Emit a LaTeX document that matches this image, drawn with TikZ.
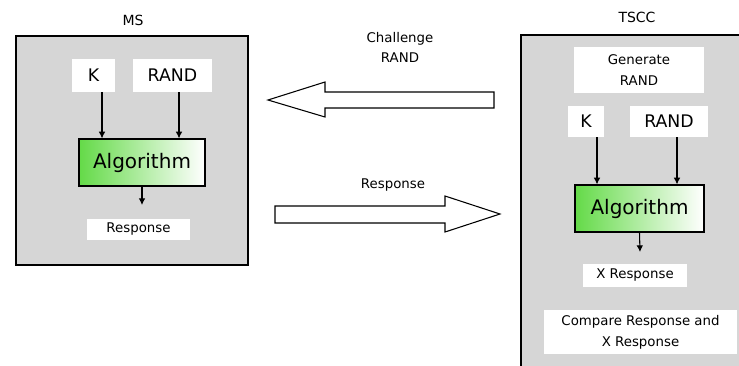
\documentclass[tikz,border=0pt]{standalone}
\usepackage{fontspec}
\setmainfont{DejaVu Sans}
\usetikzlibrary{arrows.meta,calc}
\definecolor{panelgray}{RGB}{214,214,214}
\definecolor{algreen}{RGB}{100,218,72}
\tikzstyle{panel}=[draw=black,line width=1.2pt,fill=panelgray]
\tikzstyle{title}=[font=\fontsize{10.5}{12}\selectfont]
\tikzstyle{field}=[fill=white,inner sep=0pt,font=\fontsize{13}{15}\selectfont]
\tikzstyle{note}=[fill=white,inner sep=0pt,align=center,font=\fontsize{10}{15.5}\selectfont]
\tikzstyle{algo}=[draw=black,line width=0.9pt,left color=algreen,right color=white,inner sep=0pt,font=\fontsize{15}{18}\selectfont]
\tikzstyle{flow}=[draw,line width=0.8pt,-{Latex[length=5pt,width=5pt]}]
\tikzstyle{bigarrow}=[draw=black,line width=0.8pt,fill=white,line join=miter]
\tikzstyle{msg}=[font=\fontsize{10}{15}\selectfont,align=center]

\begin{document}
\begin{tikzpicture}[x=0.75pt,y=-0.75pt]
    \useasboundingbox (0,0) rectangle (739,365);
    \clip (0,0) rectangle (739,365);

    % MS side
    \draw[panel] (16,36) rectangle (248,265);
    \node[title] (ms) at (133,20) {MS};
    \node[field,minimum width=32.25pt,minimum height=24.75pt] (kms) at (93.5,75.5) {K};
    \node[field,minimum width=59.25pt,minimum height=24.75pt] (randms) at (172.5,75.5) {RAND};
    \node[algo,minimum width=94.5pt,minimum height=35.25pt] (algms) at (142,162.5) {Algorithm};
    \node[note,minimum width=77.25pt,minimum height=15.75pt] (respms) at (138.5,229.5) {Response};
    \coordinate (kmsout) at ($(kms.south)+(8.5,0)$);
    \coordinate (randmsout) at ($(randms.south)+(6.5,0)$);
    \coordinate (outms) at (142,205);

    \draw[flow] (kmsout) -- (kmsout |- algms.north);
    \draw[flow] (randmsout) -- (randmsout |- algms.north);
    \draw[flow] (algms.south) -- (outms);

    % TSCC side
    \draw[panel] (521,35) rectangle (750,380);
    \node[title] (tscc) at (637,17) {TSCC};
    \node[note,minimum width=97.5pt,minimum height=34.5pt] (gen) at (639,70) {Generate\\RAND};
    \node[field,minimum width=27pt,minimum height=23.25pt] (kts) at (586,121.5) {K};
    \node[field,minimum width=58.5pt,minimum height=23.25pt] (randts) at (669,121.5) {RAND};
    \node[algo,minimum width=96.75pt,minimum height=35.25pt] (algts) at (639.5,208.5) {Algorithm};
    \node[note,minimum width=78pt,minimum height=17.25pt] (xresp) at (635,275.5) {X Response};
    \node[note,minimum width=144.75pt,minimum height=33pt] (cmp) at (640.5,332) {Compare Response and\\X Response};
    \coordinate (ktsout) at ($(kts.south)+(11,0)$);
    \coordinate (randtsout) at ($(randts.south)+(8,0)$);
    \coordinate (outts) at (640,252);

    \draw[flow] (ktsout) -- (ktsout |- algts.north);
    \draw[flow] (randtsout) -- (randtsout |- algts.north);
    \draw[flow] (algts.south) -- (outts);

    % messages
    \node[msg] (chal) at (400,47) {Challenge\\RAND};
    \draw[bigarrow] (494,92) -- (325,92) -- (325,82) -- (268,100) -- (325,117) -- (325,108) -- (494,108) -- cycle;
    \node[msg] (resp) at (393,185) {Response};
    \draw[bigarrow] (275,206) -- (445,206) -- (445,196) -- (500,214) -- (445,232) -- (445,223) -- (275,223) -- cycle;
\end{tikzpicture}
\end{document}
